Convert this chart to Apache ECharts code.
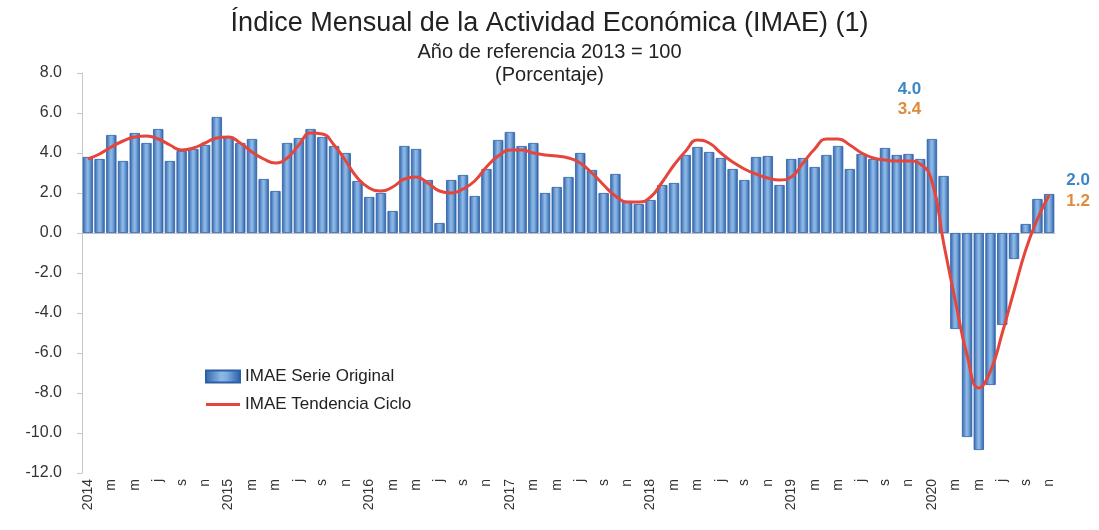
<!DOCTYPE html>
<html><head><meta charset="utf-8">
<script src="https://cdn.jsdelivr.net/npm/echarts@6/dist/echarts.min.js"></script>
<style>html,body{margin:0;padding:0;background:#fff}#c{width:1099px;height:530px}</style>
</head><body><div id="c"></div>
<script>
const years = ['2014','2015','2016','2017','2018','2019','2020'];
const monthTickLabels = ['', '', 'm', '', 'm', '', 'j', '', 's', '', 'n', ''];
const monthNames = ['ene','feb','mar','abr','may','jun','jul','ago','sep','oct','nov','dic'];

const serieOriginal = [
  3.8, 3.7, 4.9, 3.6, 5.0, 4.5, 5.2, 3.6, 4.1, 4.2, 4.4, 5.8,
  4.8, 4.5, 4.7, 2.7, 2.1, 4.5, 4.75, 5.2, 4.8, 4.35, 4.0, 2.6,
  1.8, 2.0, 1.1, 4.35, 4.2, 2.65, 0.5, 2.65, 2.9, 1.85, 3.2, 4.65,
  5.05, 4.35, 4.5, 2.0, 2.3, 2.8, 4.0, 3.15, 2.0, 2.95, 1.6, 1.45,
  1.65, 2.4, 2.5, 3.9, 4.3, 4.05, 3.75, 3.2, 2.65, 3.8, 3.85, 2.4,
  3.7, 3.75, 3.3, 3.9, 4.35, 3.2, 3.95, 3.7, 4.25, 3.9, 3.95, 3.7,
  4.7, 2.85, -4.8, -10.2, -10.85, -7.6, -4.6, -1.3, 0.45, 1.7, 1.95
];
const tendenciaCiclo = [
  3.7, 3.95, 4.3, 4.6, 4.8, 4.85, 4.7, 4.4, 4.15, 4.25, 4.5, 4.75,
  4.8, 4.5, 4.05, 3.7, 3.5, 3.75, 4.4, 5.0, 4.95, 4.4, 3.6, 2.75,
  2.25, 2.1, 2.3, 2.7, 2.8, 2.5, 2.1, 2.0, 2.2, 2.6, 3.3, 3.85,
  4.15, 4.15, 4.0, 3.9, 3.85, 3.75, 3.5, 3.0, 2.4, 1.85, 1.55, 1.55,
  1.8, 2.55, 3.4, 4.1, 4.65, 4.5, 4.0, 3.55, 3.2, 2.95, 2.75, 2.65,
  2.8, 3.5, 4.2, 4.7, 4.7, 4.4, 4.0, 3.75, 3.65, 3.6, 3.6, 3.45,
  2.6, -0.5, -3.4, -6.1, -7.75, -6.9, -5.0, -2.9, -0.85, 0.7, 1.9
];
// annotated points: [index, bar label, trend label]
const annotations = [
  [70, '4.0', '3.4'],
  [82, '2.0', '1.2']
];

const categories = [];
const tickLabels = [];
for (let i = 0; i < serieOriginal.length; i++) {
  const y = years[Math.floor(i / 12)], m = i % 12;
  categories.push(monthNames[m] + ' ' + y);
  tickLabels.push(m === 0 ? y : monthTickLabels[m]);
}

const FONT = 'Liberation Sans, Arial, sans-serif';
const blue = '#3d86c6', orange = '#e08a3c';
const barData = serieOriginal.map((v, i) => {
  const a = annotations.find(x => x[0] === i);
  if (!a) return v;
  const last = i === serieOriginal.length - 1;
  return { value: v, label: { show: true, formatter: a[1], position: 'top',
    offset: last ? [29, 0] : [1, -51], color: blue, fontSize: 17, fontWeight: 'bold', fontFamily: FONT } };
});
const lineData = tendenciaCiclo.map((v, i) => {
  const a = annotations.find(x => x[0] === i);
  if (!a) return v;
  const last = i === tendenciaCiclo.length - 1;
  return { value: v, label: { show: true, formatter: a[2], position: 'top',
    offset: last ? [29, 20] : [1, -38], color: orange, fontSize: 17, fontWeight: 'bold', fontFamily: FONT } };
});

const chart = echarts.init(document.getElementById('c'), null, { renderer: 'canvas' });
chart.setOption({
  animation: false,
  backgroundColor: '#ffffff',
  textStyle: { fontFamily: FONT },
  title: [
    { text: 'Índice Mensual de la Actividad Económica (IMAE) (1)', left: 'center', top: 5,
      textStyle: { fontSize: 27, fontWeight: 'normal', color: '#222', fontFamily: FONT } },
    { text: 'Año de referencia 2013 = 100', left: 'center', top: 37,
      textStyle: { fontSize: 20, fontWeight: 'normal', color: '#222', fontFamily: FONT } },
    { text: '(Porcentaje)', left: 'center', top: 60,
      textStyle: { fontSize: 20, fontWeight: 'normal', color: '#222', fontFamily: FONT } }
  ],
  legend: {
    orient: 'vertical', left: 200, top: 363, itemWidth: 34, itemGap: 11, itemHeight: 12,
    textStyle: { fontSize: 17, color: '#222', fontFamily: FONT },
    data: [
      { name: 'IMAE Serie Original', icon: 'rect' },
      { name: 'IMAE Tendencia Ciclo', icon: 'path://M0,4.5 L34,4.5 L34,7.5 L0,7.5 Z' }
    ]
  },
  grid: { left: 82, top: 73, width: 973, height: 400, containLabel: false },
  xAxis: [
    { type: 'category', data: categories, position: 'bottom',
      axisLine: { show: false, onZero: false }, axisTick: { show: false },
      axisLabel: { interval: 0, rotate: 90, formatter: (v, i) => tickLabels[i],
        fontSize: 14, color: '#333', margin: 6, fontFamily: FONT } },
    { type: 'category', data: categories, position: 'bottom',
      axisLine: { show: true, onZero: true, lineStyle: { color: '#c8c8c8', width: 1 } },
      axisTick: { show: false }, axisLabel: { show: false } }
  ],
  yAxis: {
    type: 'value', min: -12, max: 8, interval: 2,
    axisLine: { show: true, lineStyle: { color: '#c8c8c8' } },
    axisTick: { show: true, length: 5, lineStyle: { color: '#c8c8c8' } },
    splitLine: { show: false },
    axisLabel: { formatter: v => v.toFixed(1), fontSize: 16, color: '#333', margin: 20, fontFamily: FONT }
  },
  series: [
    { name: 'IMAE Serie Original', type: 'bar', xAxisIndex: 0, data: barData,
      barCategoryGap: '12%',
      itemStyle: {
        color: new echarts.graphic.LinearGradient(0, 0, 1, 0, [
          { offset: 0, color: '#2f64ad' }, { offset: 0.45, color: '#8fb9e6' },
          { offset: 0.6, color: '#7eaee0' }, { offset: 1, color: '#2a5ca3' }
        ]),
        borderColor: '#2c5fa6', borderWidth: 0.8
      } },
    { name: 'IMAE Tendencia Ciclo', type: 'line', xAxisIndex: 0, data: lineData,
      smooth: 0.5, symbol: 'circle', symbolSize: 0, showSymbol: true, z: 5,
      lineStyle: { color: '#e5453a', width: 3 }, itemStyle: { color: '#e5453a' } }
  ]
});
</script></body></html>
